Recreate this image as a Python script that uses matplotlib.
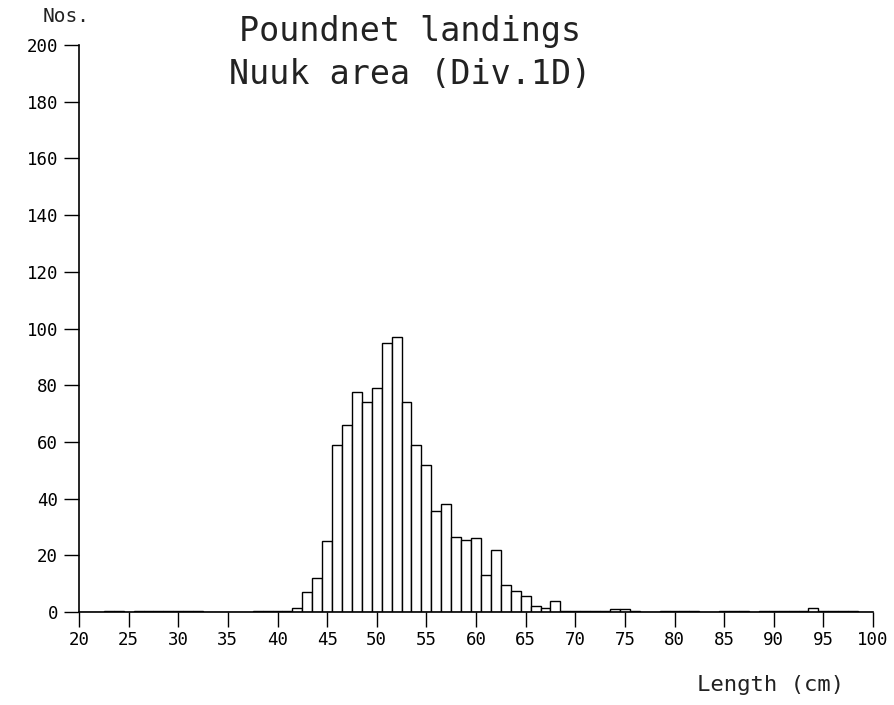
import matplotlib
matplotlib.use("Agg")
import matplotlib.pyplot as plt
import numpy as np

# Data: length classes (cm) and numbers of fish
lengths = list(range(20, 101))
counts = [
    0, 0, 0, 0.3, 0.2, 0, 0.3, 0.3, 0.3, 0.2,      # 20-29
    0.3, 0.3, 0.2, 0, 0, 0, 0, 0, 0.3, 0.3,        # 30-39
    0.5, 0.3, 1.5, 7, 12, 25, 59, 66, 77.5, 74,    # 40-49
    79, 95, 97, 74, 59, 52, 35.5, 38, 26.5, 25.5,  # 50-59
    26, 13, 22, 9.5, 7.5, 5.5, 2, 1.3, 4, 0.5,     # 60-69
    0.5, 0.3, 0.5, 0.3, 1, 1, 0.3, 0, 0, 0.2,      # 70-79
    0.3, 0.3, 0.2, 0, 0, 0.2, 0.2, 0.2, 0, 0.2,    # 80-89
    0.2, 0.2, 0.2, 0.5, 1.5, 0.5, 0.2, 0.2, 0.2, 0, # 90-99
    0,                                              # 100
]
x_ticks = list(range(20, 101, 5))
y_ticks = list(range(0, 201, 20))

title_lines = ["Poundnet landings", "Nuuk area (Div.1D)"]
y_label = "Nos."
x_label = "Length (cm)"

font = ["DejaVu Sans Mono"]

fig = plt.figure(figsize=(8.94, 7.05), dpi=100)
fig.patch.set_facecolor("white")
W, H = 894, 705
ax = fig.add_axes([79 / W, 1 - 612 / H, (873 - 79) / W, (612 - 45) / H])

ax.bar(lengths, counts, width=1.0, align="center", facecolor="white",
       edgecolor="black", linewidth=1.0, zorder=2)

ax.set_xlim(20, 100)
ax.set_ylim(0, 200)
ax.set_xticks(x_ticks)
ax.set_yticks(y_ticks)
ax.set_xticklabels([str(t) for t in x_ticks], fontfamily=font, fontsize=12.5)
ax.set_yticklabels([str(t) for t in y_ticks], fontfamily=font, fontsize=12.5)

for side in ("top", "right"):
    ax.spines[side].set_visible(False)
for side in ("left", "bottom"):
    ax.spines[side].set_linewidth(1.2)
    ax.spines[side].set_color("black")

ax.tick_params(axis="both", direction="out", length=11, width=1.0, color="black")
ax.tick_params(axis="x", pad=3)
ax.tick_params(axis="y", pad=4)
ax.set_facecolor("white")

# Labels and title
fig.text(66 / W, 1 - 17 / H, y_label, fontfamily=font, fontsize=14,
         ha="center", va="center", color="#222222")
fig.text(771 / W, 1 - 685 / H, x_label, fontfamily=font, fontsize=16,
         ha="center", va="center", color="#222222")
fig.text(410 / W, 1 - 31 / H, title_lines[0], fontfamily=font, fontsize=24,
         ha="center", va="center", color="#222222")
fig.text(410 / W, 1 - 74 / H, title_lines[1], fontfamily=font, fontsize=24,
         ha="center", va="center", color="#222222")

fig.savefig("out.png", dpi=100, facecolor="white")
